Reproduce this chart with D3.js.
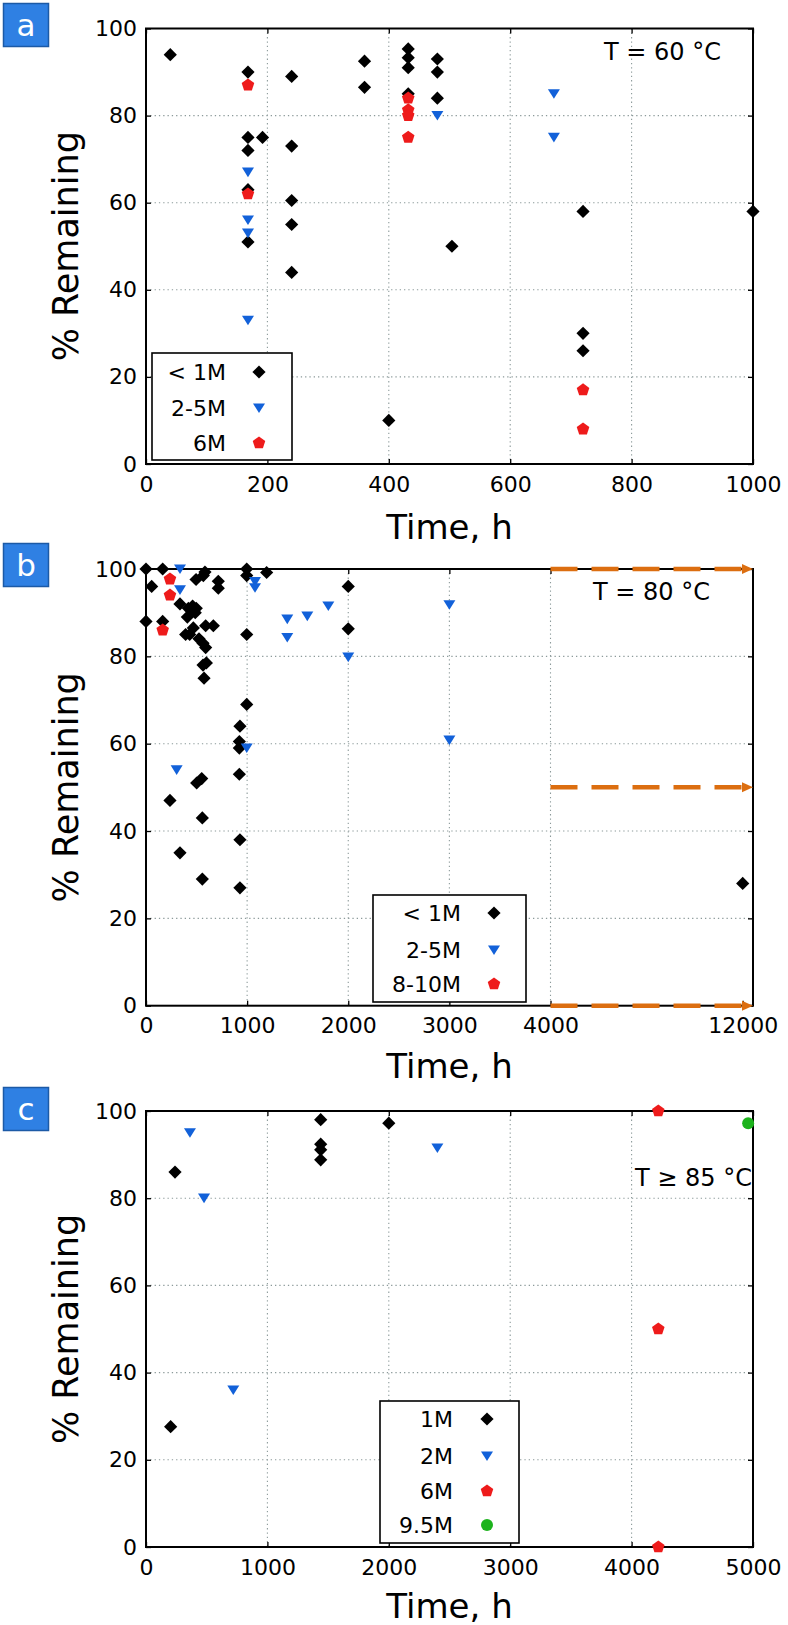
<!DOCTYPE html>
<html><head><meta charset="utf-8">
<script src="https://cdn.jsdelivr.net/npm/d3@7"></script>
<style>body{margin:0;background:#fff}svg{display:block}text{font-family:"DejaVu Sans",sans-serif;fill:#000}</style>
</head><body><svg id="c" width="788" height="1625"></svg>
<script>
// ---------- DATA ----------
// Panel a: T = 60 °C  [time h, % remaining]
const aLt1M = [[40,94],[168,90],[168,75],[168,72],[168,63],[168,51],[192,75],[240,89],[240,73],[240,60.5],[240,55],[240,44],
  [360,92.5],[360,86.5],[400,10],[432,95.3],[432,93.3],[432,91],[432,85],[480,93],[480,90],[480,84],[504,50],[720,58],[720,30],[720,26],[1000,58]];
const a2to5M = [[168,67],[168,56],[168,53],[168,33],[480,80],[672,85],[672,75]];
const a6M = [[168,87],[168,62],[432,84],[432,81.3],[432,80],[432,75],[720,17],[720,8]];
const aLegend = ["< 1M","2-5M","6M"];
const aXTicks = [0,200,400,600,800,1000];

// Panel b: T = 80 °C
const bLt1M = [[0,100],[165,100],[56,96],[0,88],[165,88],[336,92],[419,91],[461,91.5],[497,91],[487,90],[409,89],
  [392,85],[432,85],[468,86.5],[524,84],[564,83],[590,82],[590,87],[666,87],[597,78.5],[564,78],[574,75],
  [495,97.6],[567,98.5],[583,99.3],[715,97.2],[715,95.6],[996,100],[996,98.5],[996,85],[996,69],[1193,99.2],
  [929,64],[923,60.5],[923,59],[923,53],[501,51],[551,52],[237,47],[557,43],[929,38],[336,35],[557,29],[929,27],
  [2000,96],[2000,86.3],[12000,28]];
const b2to5M = [[336,100],[336,95.2],[1078,97.1],[1078,95.7],[1397,88.5],[1397,84.3],[1595,89.2],[1803,91.5],[2000,79.8],
  [996,59],[303,54],[3000,91.8],[3000,60.8]];
const b8to10M = [[237,97.7],[237,94],[165,86]];
const bLegend = ["< 1M","2-5M","8-10M"];
const bXTicks = [0,1000,2000,3000,4000,12000];
const bOngoing = [100,50,0];   // dashed arrows from 4000 h onward

// Panel c: T ≥ 85 °C
const c1M = [[239,86],[1439,98],[1439,92.4],[1439,91.1],[1439,88.8],[2000,97.2],[203,27.6]];
const c2M = [[362,95],[478,80],[719,36],[2400,91.5]];
const c6M = [[4220,100],[4220,50],[4220,0]];
const c95M = [[4960,97.2]];
const cLegend = ["1M","2M","6M","9.5M"];
const cXTicks = [0,1000,2000,3000,4000,5000];

const yTicks = [0,20,40,60,80,100];

// ---------- DRAWING ----------
const svg = d3.select("#c");
const COLORS = {black:"#000000", blue:"#1261d9", red:"#ee1b1b", green:"#1db31d"};

function markerPath(type){
  const p = d3.path();
  if(type==="diamond"){ const r=6.6; p.moveTo(0,-r);p.lineTo(r,0);p.lineTo(0,r);p.lineTo(-r,0);p.closePath(); }
  else if(type==="tri"){ p.moveTo(-6,-4.6);p.lineTo(6,-4.6);p.lineTo(0,5);p.closePath(); }
  else if(type==="pent"){ const r=6.6; for(let i=0;i<5;i++){const a=-Math.PI/2+i*2*Math.PI/5; const x=r*Math.cos(a), y=r*Math.sin(a); i?p.lineTo(x,y):p.moveTo(x,y);} p.closePath(); }
  else { p.arc(0,0,6,0,2*Math.PI); }
  return p.toString();
}
const STYLE = {diamond:COLORS.black, tri:COLORS.blue, pent:COLORS.red, circle:COLORS.green};

function panel(cfg){
  const x = d3.scaleLinear().domain(cfg.xDomain).range(cfg.xRange);
  const y = d3.scaleLinear().domain([0,100]).range([cfg.bottom, cfg.top]);
  const g = svg.append("g");
  const [L,R] = [cfg.xRange[0], cfg.xRange[cfg.xRange.length-1]];
  // grid
  const gridStyle = s => s.attr("stroke","#8c9a9a").attr("stroke-width",1.1).attr("stroke-dasharray","1.3,3");
  g.selectAll(".gx").data(cfg.gridX).join("line").call(gridStyle)
    .attr("x1",d=>x(d)).attr("x2",d=>x(d)).attr("y1",cfg.top).attr("y2",cfg.bottom);
  g.selectAll(".gy").data([20,40,60,80]).join("line").call(gridStyle)
    .attr("y1",d=>y(d)).attr("y2",d=>y(d)).attr("x1",L).attr("x2",R);
  // axes (d3 axes with inward ticks)
  const ax = g.append("g").attr("transform",`translate(0,${cfg.bottom})`)
    .call(d3.axisBottom(x).tickValues(cfg.xTicks).tickSize(-5).tickPadding(12).tickFormat(d3.format("d")));
  ax.select(".domain").remove();
  ax.selectAll("text").attr("font-size",22).attr("font-family","DejaVu Sans").attr("fill","#000");
  ax.selectAll("line").attr("stroke","#000").attr("stroke-width",1.3);
  const axT = g.append("g").attr("transform",`translate(0,${cfg.top})`)
    .call(d3.axisTop(x).tickValues(cfg.xTicks.filter(v=>v!==cfg.noTopTick)).tickSize(-5).tickFormat(""));
  axT.select(".domain").remove(); axT.selectAll("line").attr("stroke","#000").attr("stroke-width",1.3);
  const ay = g.append("g").attr("transform",`translate(${L},0)`)
    .call(d3.axisLeft(y).tickValues(yTicks).tickSize(-5).tickPadding(9));
  ay.select(".domain").remove();
  ay.selectAll("text").attr("font-size",22).attr("font-family","DejaVu Sans").attr("fill","#000");
  ay.selectAll("line").attr("stroke","#000").attr("stroke-width",1.3);
  const ayR = g.append("g").attr("transform",`translate(${R},0)`)
    .call(d3.axisRight(y).tickValues(yTicks).tickSize(-5).tickFormat(""));
  ayR.select(".domain").remove(); ayR.selectAll("line").attr("stroke","#000").attr("stroke-width",1.3);
  // frame
  g.append("rect").attr("x",L).attr("y",cfg.top).attr("width",R-L).attr("height",cfg.bottom-cfg.top)
    .attr("fill","none").attr("stroke","#000").attr("stroke-width",2);
  // ongoing arrows
  if(cfg.arrows){
    const x0 = x(cfg.arrows.from), x1 = R;
    cfg.arrows.levels.forEach(v=>{
      g.append("line").attr("x1",x0).attr("x2",x1-9).attr("y1",y(v)).attr("y2",y(v))
        .attr("stroke","#dc6e10").attr("stroke-width",4.5).attr("stroke-dasharray","27,14");
      g.append("path").attr("d",`M${x1},${y(v)} L${x1-11},${y(v)-5} L${x1-11},${y(v)+5} Z`).attr("fill","#dc6e10");
    });
  }
  // series
  cfg.series.forEach(s=>{
    g.append("g").selectAll("path").data(s.data).join("path")
      .attr("d",markerPath(s.marker)).attr("fill",STYLE[s.marker])
      .attr("transform",d=>`translate(${x(d[0])},${y(d[1])})`);
  });
  // labels
  g.append("text").attr("transform",`translate(78,${(cfg.top+cfg.bottom)/2}) rotate(-90)`)
    .attr("text-anchor","middle").attr("font-size",35).text("% Remaining");
  g.append("text").attr("x",(L+R)/2).attr("y",cfg.bottom+cfg.xTitleGap).attr("text-anchor","middle").attr("font-size",34).text("Time, h");
  g.append("text").attr("x",cfg.tLabel.x).attr("y",cfg.tLabel.y).attr("font-size",24).text(cfg.tLabel.text);
  // panel letter
  g.append("rect").attr("x",3.5).attr("y",cfg.letterY+0.5).attr("width",45).attr("height",43)
    .attr("fill","#2f80e3").attr("stroke","#1c5aa6").attr("stroke-width",1.5);
  g.append("text").attr("x",26).attr("y",cfg.letterY+22).attr("dy","0.36em").attr("text-anchor","middle")
    .attr("font-size",31).style("fill","#fff").text(cfg.letter);
  // legend
  const lg = cfg.legend;
  g.append("rect").attr("x",lg.x0).attr("y",lg.y0).attr("width",lg.x1-lg.x0).attr("height",lg.y1-lg.y0)
    .attr("fill","#fff").attr("stroke","#000").attr("stroke-width",1.6);
  cfg.series.forEach((s,i)=>{
    g.append("text").attr("x",lg.textX).attr("y",lg.rows[i]).attr("dy","0.36em").attr("text-anchor","end")
      .attr("font-size",22).text(lg.labels[i]);
    g.append("path").attr("d",markerPath(s.marker)).attr("fill",STYLE[s.marker])
      .attr("transform",`translate(${lg.markX},${lg.rows[i]})`);
  });
}

panel({letter:"a", letterY:3, top:28.5, bottom:464, xDomain:[0,1000], xRange:[146,753], xTitleGap:75,
  xTicks:aXTicks, gridX:[200,400,600,800],
  tLabel:{x:604,y:60,text:"T = 60 °C"},
  series:[{data:aLt1M,marker:"diamond"},{data:a2to5M,marker:"tri"},{data:a6M,marker:"pent"}],
  legend:{x0:152,x1:292,y0:353,y1:460,textX:226,markX:259,rows:[372,408,443],labels:aLegend}});

panel({letter:"b", letterY:543, top:569, bottom:1005.7, xDomain:[0,4000,12000,12430], xRange:[146,550.5,742.7,753], xTitleGap:72,
  xTicks:bXTicks, gridX:[1000,2000,3000,4000], noTopTick:12000,
  arrows:{from:4000, levels:bOngoing},
  tLabel:{x:593,y:600,text:"T = 80 °C"},
  series:[{data:bLt1M,marker:"diamond"},{data:b2to5M,marker:"tri"},{data:b8to10M,marker:"pent"}],
  legend:{x0:373,x1:526,y0:895,y1:1002,textX:461,markX:494,rows:[913,950,984],labels:bLegend}});

panel({letter:"c", letterY:1087, top:1111, bottom:1547, xDomain:[0,5000], xRange:[146,753], xTitleGap:71,
  xTicks:cXTicks, gridX:[1000,2000,3000,4000],
  tLabel:{x:635,y:1186,text:"T ≥ 85 °C"},
  series:[{data:c1M,marker:"diamond"},{data:c2M,marker:"tri"},{data:c6M,marker:"pent"},{data:c95M,marker:"circle"}],
  legend:{x0:380,x1:519,y0:1401,y1:1543,textX:453,markX:487,rows:[1419,1456,1491,1525],labels:cLegend}});
</script></body></html>
